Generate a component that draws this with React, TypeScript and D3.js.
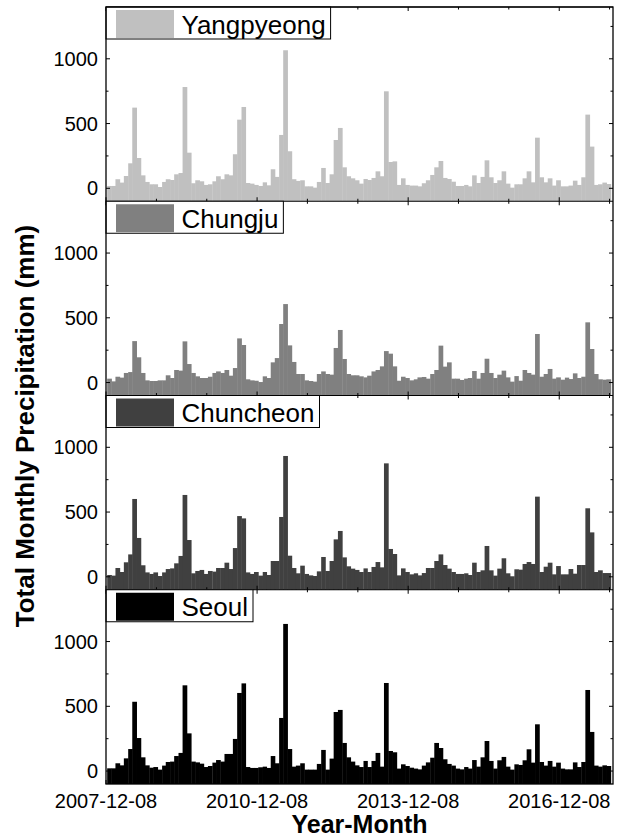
import React, { useEffect, useRef } from 'react';
import * as d3 from 'd3';

// monthly totals, Jan 2008 .. Dec 2017 (mm)
const months = d3.utcMonth.range(new Date(Date.UTC(2008, 0, 1)), new Date(Date.UTC(2018, 0, 1)));

const yangpyeong = [
  18, 18, 70, 44, 95, 193, 623, 234, 100, 49, 31, 31,
  10, 49, 70, 64, 108, 118, 782, 275, 39, 62, 54, 26,
  31, 54, 93, 70, 108, 100, 263, 530, 628, 41, 36, 26,
  18, 46, 23, 147, 88, 412, 1066, 286, 70, 57, 62, 15,
  15, 5, 49, 157, 41, 108, 373, 466, 162, 93, 77, 62,
  36, 72, 64, 80, 131, 93, 749, 203, 208, 26, 77, 26,
  21, 21, 15, 39, 62, 103, 162, 211, 80, 72, 51, 18,
  18, 26, 15, 100, 41, 88, 216, 85, 41, 62, 131, 36,
  5, 31, 31, 77, 131, 46, 391, 85, 46, 77, 21, 62,
  15, 15, 21, 59, 26, 85, 569, 322, 26, 31, 44, 33,
];

const chungju = [
  30, 9, 45, 38, 74, 81, 320, 195, 74, 17, 12, 12,
  17, 17, 56, 35, 97, 92, 318, 143, 74, 48, 35, 35,
  45, 74, 86, 74, 97, 53, 112, 341, 290, 25, 17, 14,
  4, 48, 35, 156, 189, 452, 606, 287, 159, 66, 66, 17,
  12, 7, 66, 86, 66, 61, 267, 406, 182, 66, 56, 56,
  48, 40, 53, 86, 97, 125, 243, 223, 125, 14, 45, 35,
  17, 25, 40, 43, 30, 66, 97, 285, 123, 156, 30, 30,
  20, 30, 35, 89, 30, 74, 184, 74, 35, 61, 92, 40,
  7, 50, 14, 97, 74, 61, 375, 45, 66, 105, 30, 40,
  22, 38, 27, 71, 35, 45, 465, 259, 66, 25, 22, 25,
];

const chuncheon = [
  14, 9, 68, 37, 112, 173, 601, 300, 89, 34, 22, 34,
  6, 34, 60, 65, 104, 161, 632, 284, 27, 45, 53, 22,
  45, 40, 68, 68, 109, 60, 222, 469, 451, 34, 22, 37,
  9, 37, 14, 122, 122, 462, 933, 163, 68, 27, 86, 22,
  11, 6, 42, 153, 45, 122, 289, 354, 150, 81, 63, 53,
  37, 65, 37, 76, 114, 73, 876, 215, 176, 11, 65, 37,
  19, 27, 11, 29, 68, 68, 122, 173, 91, 63, 37, 22,
  22, 27, 14, 109, 37, 50, 238, 50, 9, 63, 143, 27,
  4, 58, 55, 99, 114, 99, 619, 37, 78, 109, 19, 83,
  19, 19, 60, 24, 91, 91, 529, 343, 37, 50, 29, 29,
];

const seoul = [
  21, 21, 60, 44, 98, 170, 535, 255, 106, 44, 26, 31,
  11, 42, 70, 73, 116, 140, 662, 291, 73, 67, 57, 31,
  39, 65, 85, 73, 132, 132, 248, 603, 677, 31, 24, 24,
  29, 34, 24, 116, 60, 410, 1136, 170, 34, 42, 60, 11,
  11, 11, 55, 163, 11, 96, 456, 472, 217, 106, 73, 44,
  31, 78, 31, 78, 140, 34, 680, 155, 145, 19, 52, 39,
  26, 19, 13, 42, 67, 103, 217, 178, 91, 55, 42, 19,
  13, 31, 19, 85, 34, 106, 232, 78, 19, 83, 109, 34,
  11, 52, 47, 83, 168, 65, 361, 70, 42, 78, 34, 65,
  19, 13, 13, 67, 31, 70, 626, 302, 42, 34, 44, 39,
];

const stations = ['Yangpyeong', 'Chungju', 'Chuncheon', 'Seoul'];
const colors = ['#c0c0c0', '#808080', '#404040', '#000000'];
const xTickLabels = ['2007-12-08', '2010-12-08', '2013-12-08', '2016-12-08'];
const yTicks = [0, 500, 1000];
const yMinorTicks = [250, 750, 1250];

const FONT = 'Liberation Sans, Arial, Helvetica, sans-serif';

export default function App() {
  const ref = useRef<SVGSVGElement>(null);

  useEffect(() => {
    const W = 621, H = 839;
    const left = 106, right = 613, top = 7, bottom = 784;
    const panelH = (bottom - top) / 4;
    const parse = d3.utcParse('%Y-%m-%d');
    const fmt = d3.utcFormat('%Y-%m-%d');

    const start = parse('2007-12-08') as Date;
    const x = d3.scaleUtc()
      .domain([start, parse('2018-01-02') as Date])
      .range([left, right]);

    const yearTicks = d3.range(0, 11).map(i => d3.utcYear.offset(start, i));
    const majorX = xTickLabels.map(s => (parse(s) as Date).getTime());
    const barW = (j: number) => x(d3.utcMonth.offset(months[j], 1)) - x(months[j]);

    const svg = d3.select(ref.current);
    svg.selectAll('*').remove();
    svg.attr('width', W).attr('height', H);

    svg.append('defs').append('clipPath').attr('id', 'plotclip')
      .append('rect').attr('x', left).attr('y', top)
      .attr('width', right - left).attr('height', bottom - top);

    const series = [yangpyeong, chungju, chuncheon, seoul];

    series.forEach((vals, i) => {
      const pTop = top + i * panelH;
      const pBot = pTop + panelH;
      const y = d3.scaleLinear().domain([-100, 1400]).range([pBot, pTop]);
      const g = svg.append('g');

      // bars, slightly overlapped so no white seams show
      g.append('g').attr('clip-path', 'url(#plotclip)')
        .selectAll('rect')
        .data(vals)
        .join('rect')
        .attr('x', (d, j) => x(months[j]) - barW(j) / 2)
        .attr('width', (d, j) => barW(j) + 0.45)
        .attr('y', d => y(d))
        .attr('height', d => y(-100) - y(d))
        .attr('fill', colors[i]);

      // y ticks, inward on both sides
      const ticks = g.append('g').attr('stroke', '#000').attr('stroke-width', 1);
      yTicks.forEach(t => {
        ticks.append('line').attr('x1', left).attr('x2', left + 4).attr('y1', y(t)).attr('y2', y(t));
        ticks.append('line').attr('x1', right).attr('x2', right - 4).attr('y1', y(t)).attr('y2', y(t));
      });
      yMinorTicks.forEach(t => {
        ticks.append('line').attr('x1', left).attr('x2', left + 2.5).attr('y1', y(t)).attr('y2', y(t));
        ticks.append('line').attr('x1', right).attr('x2', right - 2.5).attr('y1', y(t)).attr('y2', y(t));
      });
      // x ticks, top and bottom of each panel
      yearTicks.forEach(d => {
        const len = majorX.includes(d.getTime()) ? 4 : 2.5;
        ticks.append('line').attr('x1', x(d)).attr('x2', x(d)).attr('y1', pBot).attr('y2', pBot - len);
        ticks.append('line').attr('x1', x(d)).attr('x2', x(d)).attr('y1', pTop).attr('y2', pTop + len);
      });

      g.selectAll('text.ytick')
        .data(yTicks)
        .join('text')
        .attr('class', 'ytick')
        .attr('x', 98)
        .attr('y', d => y(d))
        .attr('dy', '0.35em')
        .attr('text-anchor', 'end')
        .attr('font-family', FONT)
        .attr('font-size', 20)
        .text(d => d);

      // panel border line
      g.append('line').attr('x1', left).attr('x2', right).attr('y1', pTop).attr('y2', pTop)
        .attr('stroke', '#000').attr('stroke-width', 1);

      // legend
      const leg = g.append('g');
      const box = leg.append('rect')
        .attr('x', left).attr('y', pTop).attr('height', 32)
        .attr('fill', '#fff').attr('stroke', '#000').attr('stroke-width', 1);
      leg.append('rect')
        .attr('x', 116).attr('y', pTop + 3).attr('width', 58).attr('height', 28)
        .attr('fill', colors[i]);
      const label = leg.append('text')
        .attr('x', 181.5).attr('y', pTop + 26.5)
        .attr('font-family', FONT).attr('font-size', 26)
        .text(stations[i]);
      const tw = (label.node() as SVGTextElement).getComputedTextLength();
      box.attr('width', 181.5 + tw + 5 - left);
    });

    // outer frame
    svg.append('rect')
      .attr('x', left).attr('y', top).attr('width', right - left).attr('height', bottom - top)
      .attr('fill', 'none').attr('stroke', '#000').attr('stroke-width', 1.3);

    svg.selectAll('text.xtick')
      .data(xTickLabels)
      .join('text')
      .attr('class', 'xtick')
      .attr('x', d => x(parse(d) as Date))
      .attr('y', 808)
      .attr('text-anchor', 'middle')
      .attr('font-family', FONT)
      .attr('font-size', 20)
      .text(d => fmt(parse(d) as Date));

    svg.append('text')
      .attr('x', (left + right) / 2)
      .attr('y', 833)
      .attr('text-anchor', 'middle')
      .attr('font-family', FONT)
      .attr('font-size', 25)
      .attr('font-weight', 'bold')
      .text('Year-Month');

    svg.append('text')
      .attr('transform', 'translate(33.5,426) rotate(-90)')
      .attr('text-anchor', 'middle')
      .attr('font-family', FONT)
      .attr('font-size', 26)
      .attr('font-weight', 'bold')
      .text('Total Monthly Precipitation (mm)');
  }, []);

  return (
    <div>
      <svg ref={ref} style={{ position: 'absolute', left: 0, top: 0, background: '#fff' }} />
    </div>
  );
}
